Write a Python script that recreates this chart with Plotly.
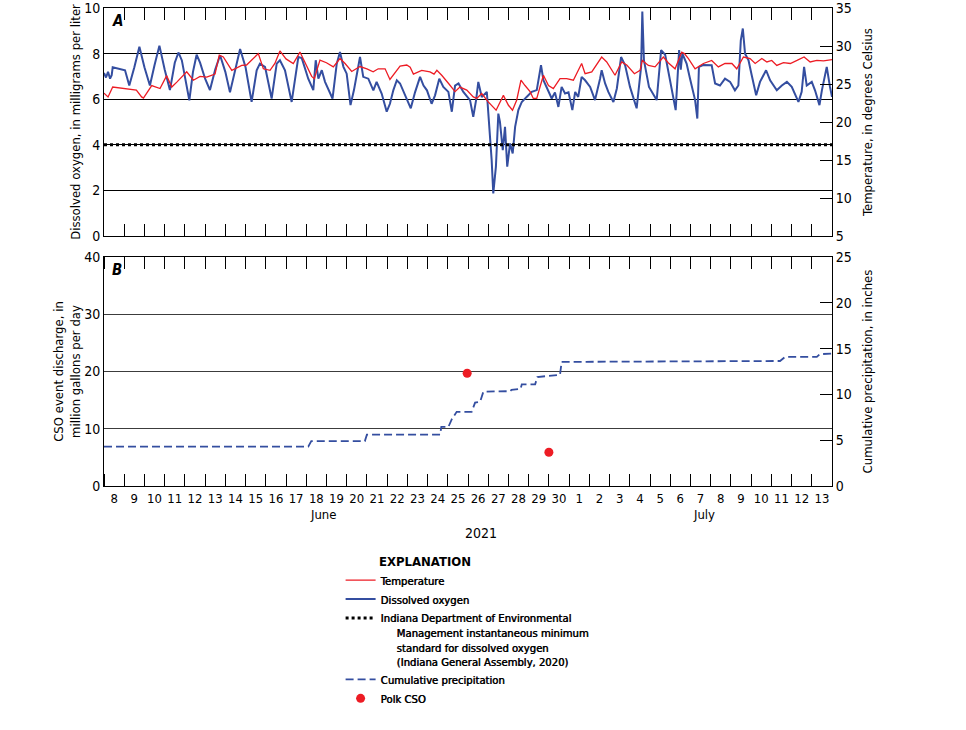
import numpy as np
import pandas as pd
import plotly.graph_objects as go

START = "2021-06-08"
END = "2021-07-14"

# Dissolved oxygen (mg/L); time in days after 2021-06-08 00:00
do_day = [0.0, 0.1, 0.2, 0.3, 0.38, 0.43, 1.04, 1.25, 1.5, 1.75, 2.0, 2.27, 2.5, 2.74, 3.0, 3.26, 3.5, 3.68,
          3.85, 4.0, 4.22, 4.4, 4.58, 4.75, 5.0, 5.24, 5.5, 5.74, 6.0, 6.23, 6.5, 6.73, 7.0, 7.3, 7.55, 7.71,
          7.96, 8.0, 8.29, 8.54, 8.7, 8.95, 9.28, 9.61, 9.78, 10.1, 10.35, 10.47, 10.6, 10.77, 10.93, 11.3,
          11.51, 11.67, 11.84, 12.0, 12.19, 12.36, 12.66, 12.82, 13.07, 13.32, 13.48, 13.73, 13.98, 14.14,
          14.31, 14.48, 14.64, 14.81, 14.97, 15.17, 15.38, 15.63, 15.8, 15.97, 16.2, 16.37, 16.58, 16.78,
          17.03, 17.2, 17.36, 17.53, 17.77, 18.1, 18.26, 18.4, 18.51, 18.68, 18.93, 19.04, 19.17, 19.25,
          19.38, 19.5, 19.58, 19.72, 19.83, 19.94, 20.08, 20.21, 20.33, 20.49, 20.66, 20.9, 21.15, 21.4,
          21.61, 21.73, 21.98, 22.14, 22.3, 22.47, 22.63, 22.8, 22.97, 23.16, 23.3, 23.45, 23.62, 23.79,
          24.04, 24.28, 24.53, 24.61, 24.78, 24.94, 25.19, 25.36, 25.57, 25.77, 26.01, 26.34, 26.56, 26.62,
          26.7, 26.95, 27.33, 27.55, 27.75, 27.9, 28.07, 28.27, 28.44, 28.52, 28.6, 28.81, 28.98, 29.23,
          29.34, 29.42, 29.63, 30.05, 30.22, 30.46, 30.71, 30.96, 31.2, 31.37, 31.49, 31.59, 31.7, 31.87,
          32.03, 32.25, 32.44, 32.74, 32.94, 33.27, 33.52, 33.77, 34.01, 34.34, 34.5, 34.62, 34.75, 35.0,
          35.16, 35.38, 35.5, 35.66, 35.74, 35.9, 36.0]
do_mgl = [7.15, 6.95, 7.2, 6.9, 7.05, 7.4, 7.27, 6.6, 7.4, 8.3, 7.4, 6.6, 7.5, 8.35, 7.3, 6.4, 7.6, 8.05,
          7.7, 7.0, 5.95, 7.2, 7.95, 7.6, 6.9, 6.4, 7.3, 7.93, 7.2, 6.3, 7.4, 8.2, 7.4, 5.88, 7.27, 7.56,
          7.42, 7.27, 6.03, 7.56, 7.71, 7.27, 5.88, 7.85, 7.8, 6.9, 6.4, 7.71, 6.9, 7.27, 6.76, 6.03,
          7.56, 8.07, 7.42, 7.12, 5.74, 6.4, 7.85, 6.98, 6.9, 6.39, 6.76, 6.25, 5.45, 5.8,
          6.4, 6.83, 6.69, 6.32, 5.95, 5.6, 6.3, 6.98, 6.6, 6.39, 5.8, 6.17, 6.9, 6.54,
          6.32, 5.45, 6.6, 6.69, 6.32, 5.96, 5.23, 5.96, 6.76, 6.1, 6.32, 5.08, 3.33, 1.87,
          3.04, 5.37, 5.0, 3.77, 4.79, 3.04, 4.06, 3.62, 4.79, 5.52, 5.88, 6.1, 6.32, 6.4,
          7.49, 6.83, 6.32, 6.03, 6.3, 5.66, 6.54, 6.25, 6.3, 5.52, 6.32, 6.1, 6.98, 6.83,
          6.54, 5.96, 6.9, 7.27, 6.69, 6.32, 5.88, 6.47, 7.85, 7.49, 6.54, 5.6, 7.42, 9.85,
          7.71, 6.54, 5.96, 8.15, 7.95, 7.27, 6.54, 5.52, 8.15, 7.3, 8.0, 7.56, 6.9, 5.96,
          5.15, 7.42, 7.5, 7.49, 6.69, 6.6, 6.9, 6.76, 6.39, 6.6, 8.58, 9.1, 8.0, 7.71,
          7.05, 6.17, 6.76, 7.27, 6.83, 6.39, 6.6, 6.76, 6.54, 5.88, 6.32, 7.42, 6.6, 6.76,
          6.39, 5.74, 6.39, 7.05, 7.42, 6.54, 6.1]

# Water temperature (degrees Celsius)
temp_day = [0.0, 0.2, 0.43, 1.12, 1.6, 1.86, 1.95, 2.36, 2.6, 2.77, 3.1, 3.35, 3.6, 4.09, 4.42, 4.75, 5.08,
            5.49, 5.7, 5.9, 6.32, 6.81, 7.05, 7.3, 7.63, 7.88, 8.21, 8.45, 8.7, 9.0, 9.36, 9.69, 9.94,
            10.27, 10.4, 10.68, 11.0, 11.34, 11.67, 11.92, 12.25, 12.66, 13.0, 13.31, 13.56, 13.9, 14.14,
            14.4, 14.64, 14.97, 15.14, 15.3, 15.71, 16.12, 16.32, 16.46, 16.7, 17.03, 17.36, 17.6, 17.94,
            18.26, 18.43, 18.68, 19.0, 19.39, 19.58, 19.75, 20.0, 20.2, 20.41, 20.62, 20.82, 21.07, 21.23,
            21.4, 21.56, 21.73, 21.98, 22.22, 22.55, 22.88, 23.21, 23.62, 23.79, 24.12, 24.61, 24.86,
            25.27, 25.6, 25.85, 26.23, 26.51, 26.62, 26.92, 27.25, 27.66, 27.9, 28.24, 28.57, 28.7, 28.9,
            29.23, 29.64, 30.05, 30.38, 30.71, 31.05, 31.29, 31.62, 31.95, 32.2, 32.53, 32.78, 33.02,
            33.27, 33.6, 33.94, 34.27, 34.62, 34.92, 35.25, 35.58, 36.0]
temp_c = [23.8, 23.3, 24.6, 24.4, 24.2, 23.3, 23.15, 24.8, 24.6, 24.4, 26.1, 24.6, 25.25, 26.6, 25.5, 26.0, 25.9,
          26.3, 28.8, 28.55, 26.8, 27.45, 27.5, 28.1, 29.0, 27.0, 26.8, 27.7, 29.35, 28.3, 27.7, 29.2, 27.8,
          26.0, 25.7, 28.15, 27.8, 27.25, 28.35, 27.7, 26.65, 27.3, 27.0, 26.6, 27.0, 27.0, 25.6,
          26.6, 27.35, 27.5, 27.2, 26.3, 26.8, 26.6, 26.3, 26.8, 26.15, 25.1, 24.0, 24.6, 24.2,
          23.3, 23.1, 23.75, 22.65, 21.55, 22.55, 23.5, 22.2, 21.55, 22.9, 25.5, 24.8, 24.0, 23.1,
          23.1, 24.6, 26.15, 24.8, 24.4, 25.7, 25.7, 25.5, 27.7, 26.35, 26.6, 28.55, 27.9,
          26.15, 27.9, 27.5, 26.35, 26.8, 28.1, 27.45, 27.25, 28.55, 27.8, 27.0, 29.2, 29.0, 28.35,
          27.0, 27.7, 28.1, 27.25, 27.7, 27.7, 27.0, 28.55, 28.35, 27.7, 28.35, 27.9, 28.1,
          27.45, 27.8, 27.7, 28.1, 28.55, 27.9, 28.1, 28.05, 28.2]

# Cumulative precipitation (inches)
precip_day = [0.0, 10.1, 10.25, 12.9, 13.0, 16.62, 16.68, 17.03, 17.2, 17.44, 18.18, 18.35, 18.6, 18.76,
              20.08, 20.15, 20.6, 20.66, 21.32, 21.43, 22.55, 22.63, 33.43, 33.68, 35.25, 35.4, 36.0]
precip_in = [4.3, 4.3, 4.9, 4.9, 5.6, 5.6, 6.45, 6.45, 7.3, 8.1, 8.1, 9.1, 9.2, 10.3,
             10.35, 10.5, 10.6, 11.1, 11.1, 11.9, 12.15, 13.55, 13.65, 14.1, 14.1, 14.4, 14.45]

# Polk CSO event discharge (million gallons per day)
cso_time = ["2021-06-25 23:00", "2021-06-30 00:00"]
cso_mgd = [19.7, 5.9]

# Indiana DEM instantaneous minimum standard (mg/L)
std_time = [START, END]
std_value = [4, 4]

do_ticks = [0, 2, 4, 6, 8, 10]

RED = "rgb(237,28,36)"
BLUE = "rgb(52,78,160)"
FONT = "Liberation Sans Narrow, DejaVu Sans Condensed, Arial Narrow, sans-serif"
IND = "\u00a0" * 5

base = pd.Timestamp(START)


def to_time(days):
    return base + pd.to_timedelta(np.asarray(days, dtype=float), unit="D")


fig = go.Figure()
fig.add_trace(go.Scatter(x=to_time(temp_day), y=temp_c, xaxis="x2", yaxis="y2", mode="lines",
                         line=dict(color=RED, width=1.3), name="Temperature", legendrank=1))
fig.add_trace(go.Scatter(x=to_time(do_day), y=do_mgl, xaxis="x2", yaxis="y", mode="lines",
                         line=dict(color=BLUE, width=2.0), name="Dissolved oxygen", legendrank=2))
fig.add_trace(go.Scatter(x=std_time, y=std_value, xaxis="x2", yaxis="y", mode="lines",
                         line=dict(color="black", width=3, dash="dot"), legendrank=3,
                         name="Indiana Department of Environmental<br>"
                              + IND + "Management instantaneous minimum<br>"
                              + IND + "standard for dissolved oxygen<br>"
                              + IND + "(Indiana General Assembly, 2020)"))
fig.add_trace(go.Scatter(x=to_time(precip_day), y=precip_in, xaxis="x", yaxis="y4", mode="lines",
                         line=dict(color=BLUE, width=1.8, dash="8px,4px"),
                         name="Cumulative precipitation", legendrank=4))
fig.add_trace(go.Scatter(x=cso_time, y=cso_mgd, xaxis="x", yaxis="y3", mode="markers",
                         marker=dict(color=RED, size=9), name="Polk CSO", legendrank=5))

xcommon = dict(type="date", range=[START, END], dtick=86400000, tick0=START,
               ticks="inside", ticklen=12, tickwidth=1, tickcolor="black",
               showline=True, linecolor="black", linewidth=1, mirror="ticks",
               showgrid=False, zeroline=False, automargin=False)
ycommon = dict(showline=True, linecolor="black", linewidth=1, zeroline=False, automargin=False,
               ticklabeloverflow="allow",
               tickfont=dict(size=14, color="black", family=FONT))
tfont = dict(size=13, family=FONT, color="black")

fig.update_layout(
    width=966, height=730,
    margin=dict(l=104, r=134, t=8, b=244, autoexpand=False),
    paper_bgcolor="white", plot_bgcolor="white",
    font=dict(family=FONT, color="black", size=13),
    xaxis=dict(xcommon, domain=[0, 1], anchor="y3", ticklabelmode="period", tickformat="%-d",
               tickfont=dict(size=13, family=FONT, color="black")),
    xaxis2=dict(xcommon, domain=[0, 1], anchor="y", showticklabels=False, matches="x"),
    yaxis=dict(ycommon, domain=[0.523, 1], range=[0, 10], tickvals=do_ticks, ticks="",
               showgrid=True, gridcolor="black", gridwidth=1,
               title=dict(text="Dissolved oxygen, in milligrams per liter", standoff=0, font=tfont)),
    yaxis2=dict(ycommon, overlaying="y", side="right", anchor="x2", range=[5, 35], dtick=5,
                ticks="inside", ticklen=12, tickcolor="black", showgrid=False,
                title=dict(text="Temperature, in degrees Celsius", standoff=12, font=tfont)),
    yaxis3=dict(ycommon, domain=[0, 0.479], anchor="x", range=[0, 40], dtick=10, ticks="",
                showgrid=True, gridcolor="rgb(60,60,60)", gridwidth=1,
                title=dict(text="CSO event discharge, in<br>million gallons per day", standoff=0,
                           font=tfont)),
    yaxis4=dict(ycommon, overlaying="y3", side="right", anchor="x", range=[0, 25], dtick=5,
                ticks="inside", ticklen=12, tickcolor="black", showgrid=False,
                title=dict(text="Cumulative precipitation, in inches", standoff=12, font=tfont)),
    legend=dict(x=0.325, y=-0.168, xanchor="left", yanchor="top", valign="top",
                bgcolor="rgba(0,0,0,0)", tracegroupgap=0, itemwidth=30,
                font=dict(size=11.2, family=FONT, color="black", shadow="0.5px 0 0 black")),
    showlegend=True,
)

annotations = [
    dict(text="<b><i>A</i></b>", x=0.008, y=0.995, xref="paper", yref="paper", xanchor="left",
         yanchor="top", showarrow=False, font=dict(size=15, family=FONT)),
    dict(text="<b><i>B</i></b>", x=0.008, y=0.474, xref="paper", yref="paper", xanchor="left",
         yanchor="top", showarrow=False, font=dict(size=15, family=FONT)),
    dict(text="June", x="2021-06-18 20:00", y=-0.0586, xref="x", yref="paper", showarrow=False,
         yanchor="middle", font=dict(size=13, family=FONT)),
    dict(text="July", x="2021-07-07 16:00", y=-0.0586, xref="x", yref="paper", showarrow=False,
         yanchor="middle", font=dict(size=13, family=FONT)),
    dict(text="2021", x="2021-06-26 15:00", y=-0.098, xref="x", yref="paper", showarrow=False,
         yanchor="middle", font=dict(size=14, family=FONT)),
    dict(text="<b>EXPLANATION</b>", x=0.441, y=-0.157, xref="paper", yref="paper", showarrow=False,
         yanchor="middle", font=dict(size=13, family=FONT)),
]
fig.update_layout(annotations=annotations)

fig.write_html("out.html")
